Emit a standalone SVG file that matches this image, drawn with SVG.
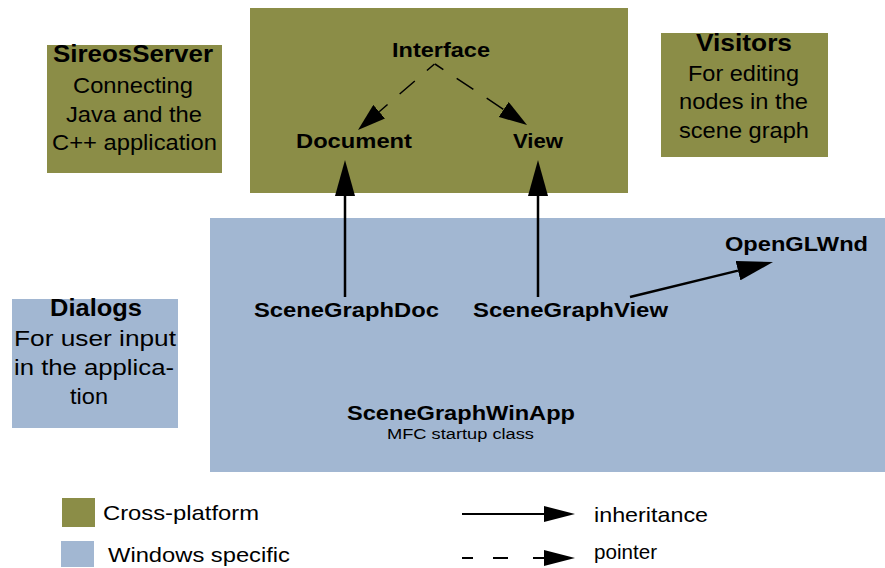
<svg xmlns="http://www.w3.org/2000/svg" width="885" height="568" viewBox="0 0 885 568">
  <style>
    .cross { fill: #8b8d47; }
    .win { fill: #a2b7d2; }
    text { font-family: "Liberation Sans", Arial, sans-serif; fill: #000; }
    .b { font-weight: bold; font-size: 21px; text-anchor: middle; }
    .t { font-weight: bold; font-size: 23px; text-anchor: middle; }
    .r { font-size: 22px; text-anchor: middle; }
    .s { font-size: 15.5px; text-anchor: middle; }
    .key { font-size: 21px; }
    .inh { stroke: #000; stroke-width: 2.5; fill: none; }
    .ptr { stroke: #000; stroke-width: 1.5; fill: none; stroke-dasharray: 20 16; stroke-dashoffset: 10; }
  </style>
  <defs>
    <marker id="head-inh" viewBox="0 0 36 20" refX="0" refY="10" markerWidth="36" markerHeight="20" markerUnits="userSpaceOnUse" orient="auto">
      <path d="M0,0 L36,10 L0,20 Z" fill="#000"/>
    </marker>
    <marker id="head-ptr" viewBox="0 0 28 18" refX="0" refY="9" markerWidth="28" markerHeight="18" markerUnits="userSpaceOnUse" orient="auto">
      <path d="M0,0 L28,9 L0,18 Z" fill="#000"/>
    </marker>
    <marker id="head-key" viewBox="0 0 31 16" refX="0" refY="8" markerWidth="31" markerHeight="16" markerUnits="userSpaceOnUse" orient="auto">
      <path d="M0,0 L31,8 L0,16 Z" fill="#000"/>
    </marker>
  </defs>

  <!-- platform areas -->
  <g id="area-cross">
    <rect class="cross" x="250" y="8" width="378" height="185"/>
  </g>
  <g id="area-windows">
    <rect class="win" x="210" y="218" width="675" height="254"/>
  </g>

  <!-- side modules -->
  <g id="sireos-server">
    <rect class="cross" x="47" y="45" width="175" height="128"/>
    <text class="t" x="133" y="62" textLength="160" lengthAdjust="spacingAndGlyphs">SireosServer</text>
    <text class="r" x="133" y="93" textLength="120" lengthAdjust="spacingAndGlyphs">Connecting</text>
    <text class="r" x="134" y="122" textLength="136" lengthAdjust="spacingAndGlyphs">Java and the</text>
    <text class="r" x="134.5" y="150" textLength="165" lengthAdjust="spacingAndGlyphs">C++ application</text>
  </g>
  <g id="visitors">
    <rect class="cross" x="661" y="33" width="167" height="124"/>
    <text class="t" x="744" y="51" textLength="96" lengthAdjust="spacingAndGlyphs">Visitors</text>
    <text class="r" x="743.5" y="81" textLength="111" lengthAdjust="spacingAndGlyphs">For editing</text>
    <text class="r" x="743.5" y="109" textLength="129" lengthAdjust="spacingAndGlyphs">nodes in the</text>
    <text class="r" x="744" y="138" textLength="130" lengthAdjust="spacingAndGlyphs">scene graph</text>
  </g>
  <g id="dialogs">
    <rect class="win" x="12" y="299" width="166" height="129"/>
    <text class="t" x="96" y="316" textLength="92" lengthAdjust="spacingAndGlyphs">Dialogs</text>
    <text class="r" x="95" y="346" textLength="162" lengthAdjust="spacingAndGlyphs">For user input</text>
    <text class="r" x="94" y="375" textLength="160" lengthAdjust="spacingAndGlyphs">in the applica-</text>
    <text class="r" x="89" y="404" textLength="38" lengthAdjust="spacingAndGlyphs">tion</text>
  </g>

  <!-- classes -->
  <g id="interface">
    <text class="b" x="441" y="57" textLength="98" lengthAdjust="spacingAndGlyphs">Interface</text>
  </g>
  <g id="document">
    <text class="b" x="354" y="148" textLength="116" lengthAdjust="spacingAndGlyphs">Document</text>
  </g>
  <g id="view">
    <text class="b" x="538" y="148" textLength="50" lengthAdjust="spacingAndGlyphs">View</text>
  </g>
  <g id="scene-graph-doc">
    <text class="b" x="346.5" y="317" textLength="185" lengthAdjust="spacingAndGlyphs">SceneGraphDoc</text>
  </g>
  <g id="scene-graph-view">
    <text class="b" x="570.5" y="317" textLength="195" lengthAdjust="spacingAndGlyphs">SceneGraphView</text>
  </g>
  <g id="opengl-wnd">
    <text class="b" x="796.5" y="251" textLength="143" lengthAdjust="spacingAndGlyphs">OpenGLWnd</text>
  </g>
  <g id="scene-graph-win-app">
    <text class="b" x="461" y="420" textLength="228" lengthAdjust="spacingAndGlyphs">SceneGraphWinApp</text>
    <text class="s" x="460.5" y="439" textLength="147" lengthAdjust="spacingAndGlyphs">MFC startup class</text>
  </g>

  <!-- connectors -->
  <g id="connectors">
    <path class="ptr" d="M434.5,64 L379.2,111.7" marker-end="url(#head-ptr)"/>
    <path class="ptr" d="M435,64 L503.7,109.5" marker-end="url(#head-ptr)"/>
    <path class="inh" d="M345,297 L345,196" marker-end="url(#head-inh)"/>
    <path class="inh" d="M538,297 L538,196" marker-end="url(#head-inh)"/>
    <path class="inh" d="M630,297 L738,270.6" marker-end="url(#head-inh)"/>
  </g>

  <!-- key -->
  <g id="legend">
    <rect class="cross" x="62" y="498" width="33" height="29"/>
    <text class="key" x="103" y="520" textLength="156" lengthAdjust="spacingAndGlyphs">Cross-platform</text>
    <rect class="win" x="61" y="541" width="33" height="26"/>
    <text class="key" x="108" y="562" textLength="182" lengthAdjust="spacingAndGlyphs">Windows specific</text>
    <path d="M462,514 L544,514" stroke="#000" stroke-width="2" marker-end="url(#head-key)"/>
    <text class="key" x="594" y="522" textLength="114" lengthAdjust="spacingAndGlyphs">inheritance</text>
    <path d="M462,558 L544,558" stroke="#000" stroke-width="2" stroke-dasharray="11 20 15 25 11" marker-end="url(#head-key)"/>
    <text class="key" x="594" y="559" textLength="63" lengthAdjust="spacingAndGlyphs">pointer</text>
  </g>
</svg>
